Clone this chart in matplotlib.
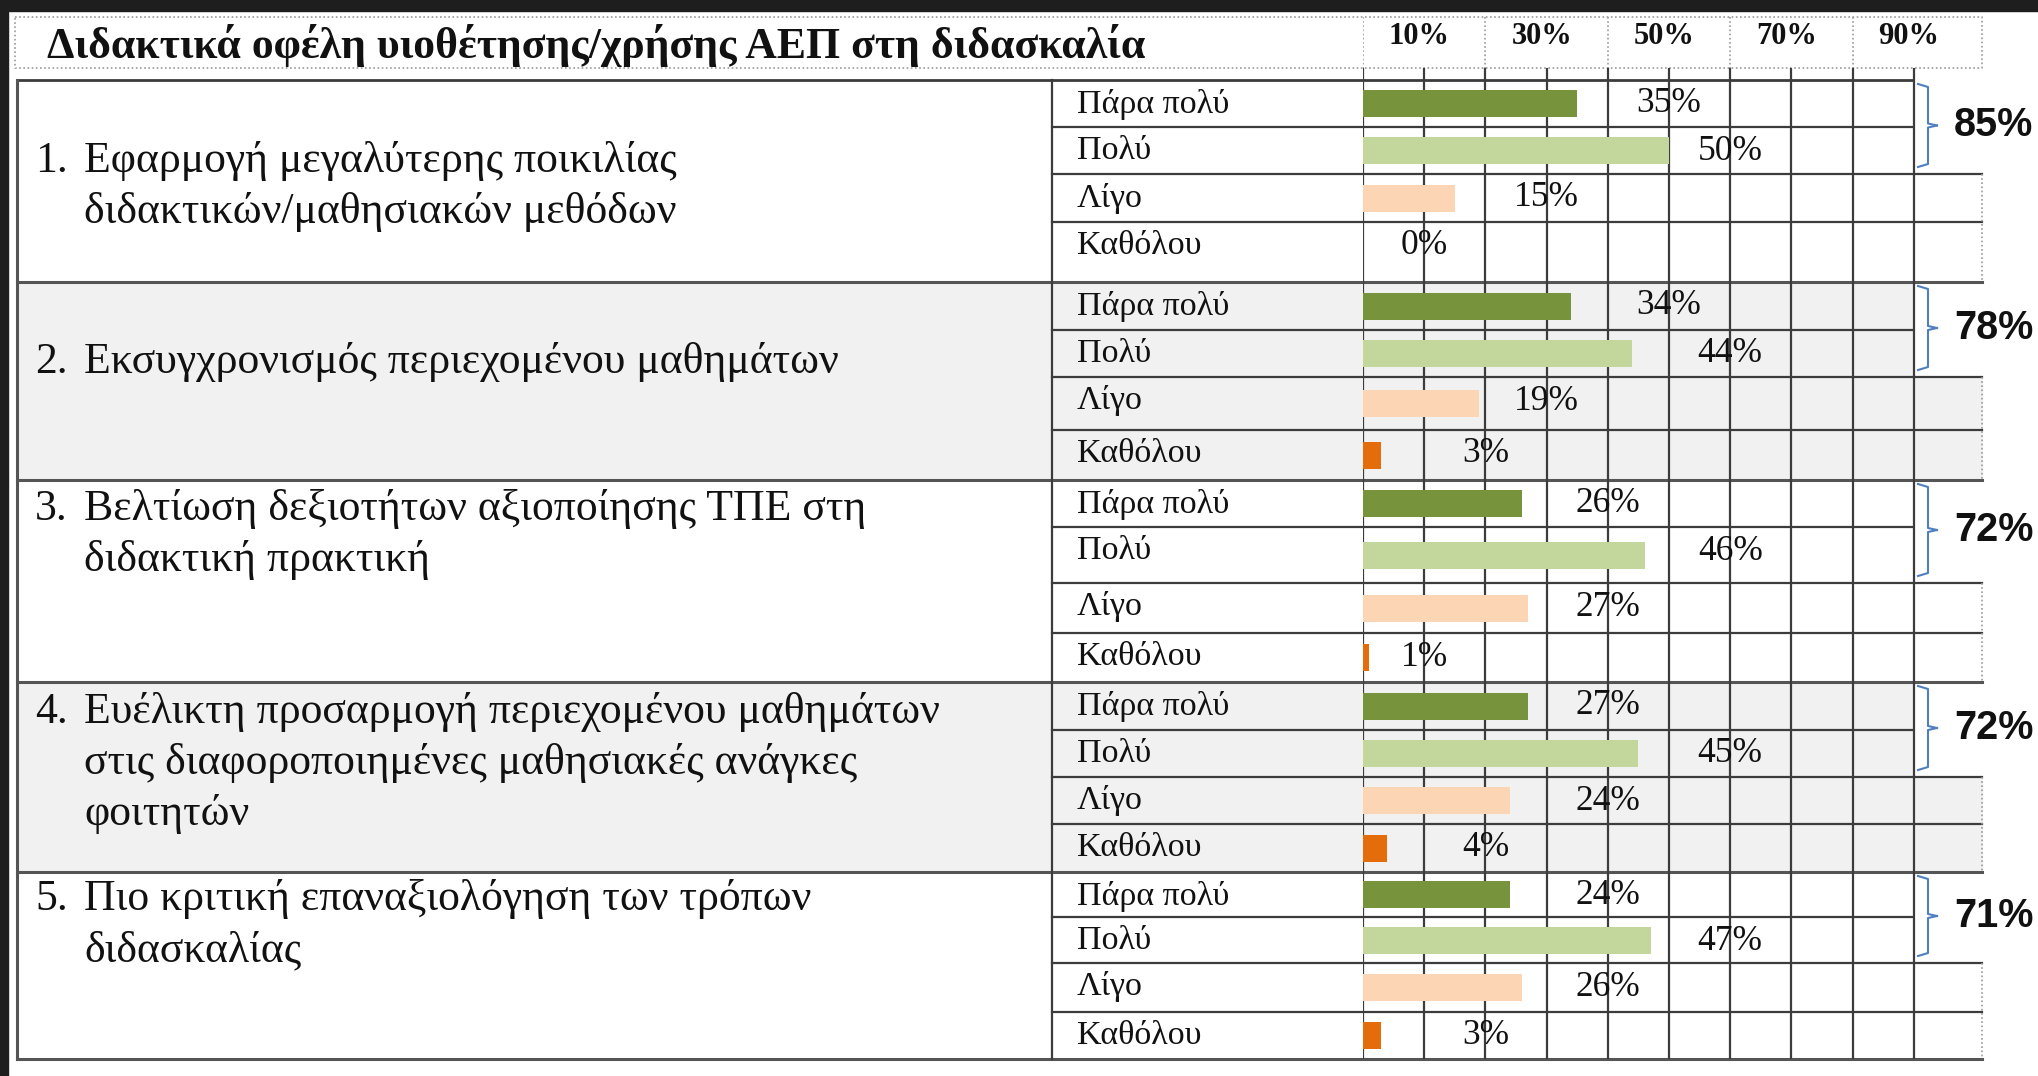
import matplotlib
matplotlib.use("Agg")
import matplotlib.pyplot as plt
import numpy as np

# ---- data ----
title = "Διδακτικά οφέλη υιοθέτησης/χρήσης ΑΕΠ στη διδασκαλία"
questions = [
    ["Εφαρμογή μεγαλύτερης ποικιλίας", "διδακτικών/μαθησιακών μεθόδων"],
    ["Εκσυγχρονισμός περιεχομένου μαθημάτων"],
    ["Βελτίωση δεξιοτήτων αξιοποίησης ΤΠΕ στη", "διδακτική πρακτική"],
    ["Ευέλικτη προσαρμογή περιεχομένου μαθημάτων",
     "στις διαφοροποιημένες μαθησιακές ανάγκες", "φοιτητών"],
    ["Πιο κριτική επαναξιολόγηση των τρόπων", "διδασκαλίας"],
]
levels = ["Πάρα πολύ", "Πολύ", "Λίγο", "Καθόλου"]
para_poly = [35, 34, 26, 27, 24]
poly = [50, 44, 46, 45, 47]
ligo = [15, 19, 27, 24, 26]
katholou = [0, 3, 1, 4, 3]
totals = [85, 78, 72, 72, 71]
header_ticks = [10, 30, 50, 70, 90]

# ---- layout (pixels) ----
W, H = 2038, 1076
x_left, x_mid, x_bar, x_90, x_right = 17, 1052, 1363, 1913, 1982
px_per_pct = 6.12
head_top, head_bot = 17, 68
row_edges = [80, 127, 174, 222, 282, 330, 377, 430, 480, 527, 583, 633, 682,
             730, 777, 824, 872, 917, 963, 1012, 1059]
q_offset = [81, 80, 29, 30, 27]
line_gap = 51
label_pos = [[50, 60, 30, 10], [50, 60, 30, 20], [40, 60, 40, 10],
             [40, 60, 40, 20], [40, 60, 40, 20]]

colors = ["#77933c", "#c3d69b", "#fcd5b5", "#e46c0a"]
line_c = "#3c3c3c"
grey = "#f1f1f1"
serif = ["Liberation Serif", "DejaVu Serif"]

fig = plt.figure(figsize=(W / 100, H / 100), dpi=100)
ax = fig.add_axes([0, 0, 1, 1])
ax.set_xlim(0, W)
ax.set_ylim(H, 0)
ax.axis("off")

# dark frame top / left
ax.add_patch(plt.Rectangle((0, 0), W, 11, color="#1e1e1e", zorder=10))
ax.add_patch(plt.Rectangle((0, 0), 8, H, color="#1e1e1e", zorder=10))

# grey shading of groups 2 and 4
for g in (1, 3):
    top, mid, bot = row_edges[4 * g], row_edges[4 * g + 2], row_edges[4 * g + 4]
    ax.add_patch(plt.Rectangle((x_left, top), x_90 - x_left, bot - top,
                               color=grey, zorder=0))
    ax.add_patch(plt.Rectangle((x_90, mid), x_right - x_90, bot - mid,
                               color=grey, zorder=0))

# header (dotted box)
ax.plot([15, x_right, x_right, 15, 15], [head_top, head_top, head_bot, head_bot, head_top],
        ls=(0, (1, 1.5)), color="#9a9a9a", lw=1.2, zorder=2)
ax.text(47, 58, title, fontsize=31.5, fontweight="bold", family=serif,
        ha="left", va="baseline", color="#111111")

# table lines
ax.plot([x_left, x_90], [row_edges[0], row_edges[0]], color=line_c, lw=2.0, zorder=2)
for g in range(5):
    b = row_edges[4 * g + 4]
    ax.plot([x_left, x_right], [b, b], color="#555555", lw=2.2, zorder=2)
    ax.plot([x_mid, x_90], [row_edges[4 * g + 1]] * 2, color=line_c, lw=1.6, zorder=2)
    for k in (2, 3):
        y = row_edges[4 * g + k]
        ax.plot([x_mid, x_right], [y, y], color=line_c, lw=1.6, zorder=2)
    ax.plot([x_right, x_right], [row_edges[4 * g + 2], row_edges[4 * g + 4]],
            ls=(0, (1, 1.5)), color="#9a9a9a", lw=1.2, zorder=2)
ax.plot([x_left, x_left], [row_edges[0], row_edges[-1]], color="#555555", lw=2.2, zorder=2)
ax.plot([x_mid, x_mid], [row_edges[0], row_edges[-1]], color=line_c, lw=1.6, zorder=2)

# question texts and level labels
for g, q in enumerate(questions):
    top = row_edges[4 * g]
    y0 = top + q_offset[g]
    ax.text(35, y0, f"{g + 1}.", fontsize=31.5, family=serif, ha="left", va="center",
            color="#111111")
    for i, line in enumerate(q):
        ax.text(84, y0 + i * line_gap, line, fontsize=31.5, family=serif,
                ha="left", va="center", color="#111111")
    for k, lev in enumerate(levels):
        ax.text(1077, row_edges[4 * g + k] + 24, lev, fontsize=24.5, family=serif,
                ha="left", va="center", color="#111111")

    # bracket and total
    bt = top + 4
    bb = row_edges[4 * g + 2] - 7
    bm = (bt + bb) / 2
    ax.plot([1918, 1928, 1928, 1937], [bt, bt + 3, bm - 2, bm], color="#4f7fbf", lw=1.5, zorder=3)
    ax.plot([1937, 1928, 1928, 1918], [bm, bm + 2, bb - 3, bb], color="#4f7fbf", lw=1.5, zorder=3)
    ax.text(1954, bm, f"{totals[g]}%", fontsize=28.5, fontweight="bold",
            family=["Liberation Sans", "DejaVu Sans"], ha="left", va="center", color="#111111")

# ---- bar area: x in percent ----
bx = fig.add_axes([x_bar / W, 0, (x_right - x_bar) / W, 1])
bx.set_xlim(0, (x_right - x_bar) / px_per_pct)
bx.set_ylim(H, 0)
bx.axis("off")
bx.patch.set_alpha(0)

bx.vlines(np.arange(0, 100, 10), head_bot, row_edges[-1], color=line_c, lw=1.6, zorder=2)
bx.vlines(np.arange(0, 100, 20), head_top, head_bot, color="#9a9a9a", lw=1.2,
          linestyles=(0, (1, 1.5)), zorder=2)
for t in header_ticks:
    bx.text(t - 0.8, 44, f"{t}%", fontsize=22, fontweight="bold", family=serif,
            ha="center", va="baseline", color="#111111")

series = [para_poly, poly, ligo, katholou]
edges = np.array(row_edges)
centers = (edges[:-1] + edges[1:]) / 2
for k, vals in enumerate(series):
    idx = [4 * g + k for g in range(5)]
    bx.barh(centers[idx], vals, height=27, color=colors[k], zorder=3)
    for g in range(5):
        bx.text(label_pos[g][k], edges[4 * g + k] + 24, f"{vals[g]}%", fontsize=25.5,
                family=serif, ha="center", va="center", color="#111111", zorder=4)

fig.savefig("out.png", dpi=100, facecolor="white")
